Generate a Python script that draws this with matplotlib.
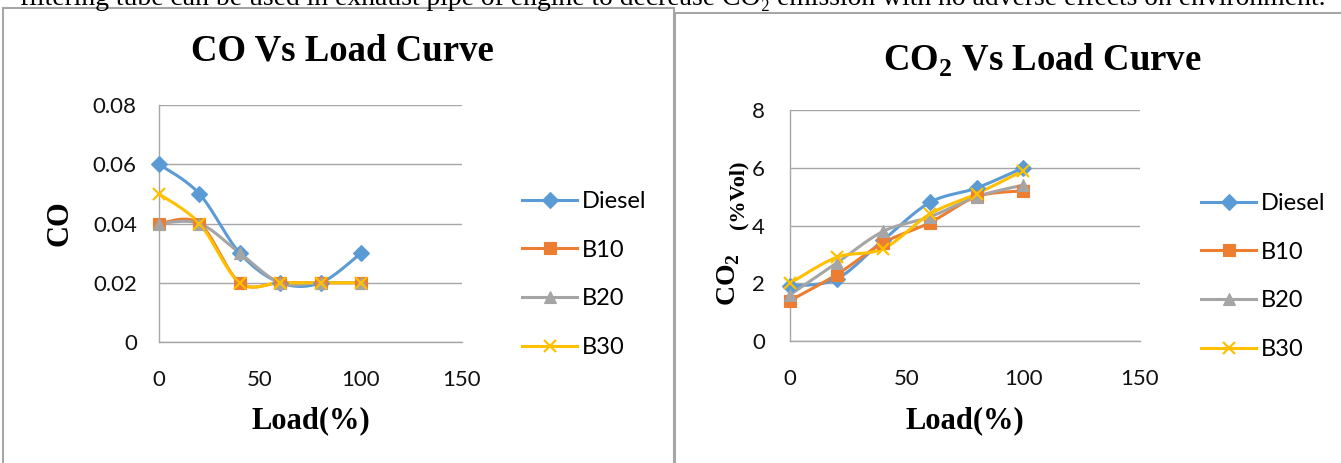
import numpy as np
import matplotlib.pyplot as plt
from matplotlib.patches import Rectangle
from matplotlib.lines import Line2D

plt.rcParams["mathtext.fontset"] = "custom"
plt.rcParams["mathtext.rm"] = "Liberation Serif:bold"
plt.rcParams["mathtext.bf"] = "Liberation Serif:bold"

# engine load (%) and fuel blends
load = [0, 20, 40, 60, 80, 100]
fuels = ["Diesel", "B10", "B20", "B30"]

# CO emission
co_diesel = [0.06, 0.05, 0.03, 0.02, 0.02, 0.03]
co_b10 = [0.04, 0.04, 0.02, 0.02, 0.02, 0.02]
co_b20 = [0.04, 0.04, 0.03, 0.02, 0.02, 0.02]
co_b30 = [0.05, 0.04, 0.02, 0.02, 0.02, 0.02]

# CO2 emission (% vol)
co2_diesel = [1.9, 2.15, 3.5, 4.8, 5.3, 6.0]
co2_b10 = [1.4, 2.3, 3.4, 4.1, 5.0, 5.2]
co2_b20 = [1.6, 2.7, 3.8, 4.3, 5.0, 5.4]
co2_b30 = [2.0, 2.9, 3.2, 4.4, 5.1, 5.9]

colors = ["#5b9bd5", "#ed7d31", "#a5a5a5", "#ffc000"]
markers = ["D", "s", "^", "x"]
msizes = [8, 8.5, 8.5, 9]

W, H = 1341, 463
TICK_FONT = "Lato"
SERIF = "Liberation Serif"
GRID = "#a6a6a6"


def fx(x):
    return x / W


def fy(y):
    return 1 - y / H


def smooth(xs, ys, n=30):
    # excel-style smoothed line: cubic bezier segments with catmull-rom tangents
    p = np.column_stack([xs, ys]).astype(float)
    p = np.vstack([p[0], p, p[-1]])
    out = []
    t = np.linspace(0, 1, n)[:, None]
    for i in range(1, len(p) - 2):
        a, b = p[i], p[i + 1]
        c1 = a + (p[i + 1] - p[i - 1]) / 6
        c2 = b - (p[i + 2] - p[i]) / 6
        seg = (1 - t) ** 3 * a + 3 * (1 - t) ** 2 * t * c1 + 3 * (1 - t) * t ** 2 * c2 + t ** 3 * b
        out.append(seg if i == 1 else seg[1:])
    out = np.vstack(out)
    return out[:, 0], out[:, 1]


def draw(ax, series, ymax, ystep, fmt):
    for ys, c, m, ms in zip(series, colors, markers, msizes):
        sx, sy = smooth(load, ys)
        ax.plot(sx, sy, color=c, lw=2.2, clip_on=False, zorder=3)
        mew = 1.6 if m == "x" else 0.8
        ax.plot(load, ys, ls="none", marker=m, ms=ms, color=c, mec=c, mew=mew,
                clip_on=False, zorder=4)
    ax.set_xlim(0, 150)
    ax.set_ylim(0, ymax)
    ax.set_xticks([0, 50, 100, 150])
    yt = np.arange(0, ymax + ystep / 2, ystep)
    ax.set_yticks(yt)
    ax.set_yticklabels([fmt(v) for v in yt])
    ax.yaxis.grid(True, color=GRID, lw=1)
    ax.set_axisbelow(True)
    for s in ["top", "right"]:
        ax.spines[s].set_visible(False)
    for s in ["left", "bottom"]:
        ax.spines[s].set_color(GRID)
        ax.spines[s].set_linewidth(1)
    ax.tick_params(length=0, labelsize=16, labelcolor="#111111")
    for lab in ax.get_xticklabels() + ax.get_yticklabels():
        lab.set_family(TICK_FONT)


def legend(ax, x, y):
    handles = [Line2D([], [], color=c, lw=2.2, marker=m, ms=ms, mec=c,
                      mew=1.6 if m == "x" else 0.8)
               for c, m, ms in zip(colors, markers, msizes)]
    ax.legend(handles, fuels, loc="upper left", bbox_to_anchor=(fx(x), fy(y)),
              bbox_transform=ax.figure.transFigure, frameon=False,
              prop={"family": TICK_FONT, "size": 17}, handlelength=2.33,
              handletextpad=0.21, labelspacing=1.17, borderpad=0, borderaxespad=0)


fig = plt.figure(figsize=(W / 100, H / 100), dpi=100)

# text line of the page above the charts
fig.text(fx(20), fy(5), "filtering tube can be used in exhaust pipe of engine to decrease "
         "CO\u2082 emission with no adverse effects on environment.",
         family=[SERIF, "DejaVu Serif"], fontsize=19.9, va="baseline", ha="left")

# chart frames
fig.add_artist(Rectangle((fx(3), -0.05), fx(674 - 3), fy(8) + 0.05,
                         transform=fig.transFigure, fill=False, ec="#a6a6a6", lw=1.5))
fig.add_artist(Rectangle((fx(675), -0.05), fx(1345 - 675), fy(13) + 0.05,
                         transform=fig.transFigure, fill=False, ec="#a6a6a6", lw=1.5))

# CO chart
ax1 = fig.add_axes([fx(159), fy(342), fx(462 - 159), (342 - 105) / H])
draw(ax1, [co_diesel, co_b10, co_b20, co_b30], 0.08, 0.02,
     lambda v: "0" if v == 0 else "%.2f" % v)
ax1.tick_params(axis="y", pad=16)
ax1.tick_params(axis="x", pad=20)
legend(ax1, 522, 191)
fig.text(fx(342), fy(51), "CO Vs Load Curve", family=SERIF, weight="bold",
         fontsize=26.5, ha="center", va="center")
fig.text(fx(60), fy(223), "CO", family=SERIF, weight="bold", fontsize=22,
         rotation=90, ha="center", va="center")
fig.text(fx(311), fy(421), "Load(%)", family=SERIF, weight="bold", fontsize=22,
         ha="center", va="center")

# CO2 chart
ax2 = fig.add_axes([fx(790), fy(341), fx(1140 - 790), (341 - 110) / H])
draw(ax2, [co2_diesel, co2_b10, co2_b20, co2_b30], 8, 2, lambda v: "%d" % v)
ax2.tick_params(axis="y", pad=18)
ax2.tick_params(axis="x", pad=20)
legend(ax2, 1201, 193)
fig.text(fx(1042), fy(60), r"CO$_2$ Vs Load Curve", family=SERIF, weight="bold",
         fontsize=26.5, ha="center", va="center")
fig.text(fx(729), fy(306), r"CO$_2$", family=SERIF, weight="bold", fontsize=20,
         rotation=90, ha="center", va="bottom")
fig.text(fx(738), fy(229), "(%Vol)", family=SERIF, weight="bold", fontsize=16,
         rotation=90, ha="center", va="bottom")
fig.text(fx(965), fy(421), "Load(%)", family=SERIF, weight="bold", fontsize=22,
         ha="center", va="center")

fig.savefig("out.png", dpi=100)
